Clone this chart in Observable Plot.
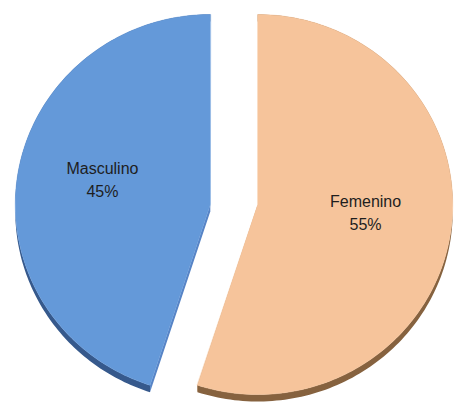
<!DOCTYPE html>
<html><head><meta charset="utf-8">
<script src="https://cdn.jsdelivr.net/npm/d3@7"></script>
<script src="https://cdn.jsdelivr.net/npm/@observablehq/plot@0.6"></script>
<style>html,body{margin:0;padding:0;background:#fff;}</style>
</head><body><div id="chart"></div>
<script>
const categories = ["Masculino", "Femenino"];
const values = [45, 55];
const percentLabels = ["45%", "55%"];

const W = 454, H = 402;
const CX = 233.5, CY = 204, RX = 195, RY = 190, EXPLODE = 24, DEPTH = 7;
const topColors = {Masculino: "#6499d9", Femenino: "#f6c49b"};
const sideColors = {Masculino: "#36598c", Femenino: "#86623f"};
const cutColors = {Masculino: "#5784c6", Femenino: "#c99a72"};

const total = d3.sum(values);
const start = -2 * Math.PI * values[0] / total;
const arcs = d3.pie().sort(null).startAngle(start).endAngle(start + 2 * Math.PI)(values);

function pt(a, cx, cy, dy = 0) {
  return {x: cx + RX * Math.sin(a), y: cy - RY * Math.cos(a) + dy};
}

const slices = arcs.map((a, i) => {
  const mid = (a.startAngle + a.endAngle) / 2;
  return {name: categories[i], label: percentLabels[i], a0: a.startAngle, a1: a.endAngle, mid,
          cx: CX + EXPLODE * Math.sin(mid), cy: CY};
});

function arcPts(s, dy) {
  const n = 160, out = [];
  for (let k = 0; k <= n; k++) {
    const a = s.a0 + (s.a1 - s.a0) * k / n;
    out.push(pt(a, s.cx, s.cy, dy));
  }
  return out;
}

const marks = [];
// side faces first
for (const s of slices) {
  const c0 = {x: s.cx, y: s.cy}, c1 = {x: s.cx, y: s.cy + DEPTH};
  const cuts = [];
  for (const a of [s.a0, s.a1]) {
    const p0 = pt(a, s.cx, s.cy, 0), p1 = pt(a, s.cx, s.cy, DEPTH);
    cuts.push([c0, p0, p1, c1].map(p => ({...p, id: s.name + a})));
  }
  marks.push(Plot.line(cuts.flat(), {x: "x", y: "y", z: "id", fill: cutColors[s.name], stroke: "none", curve: "linear-closed"}));
  const band = [...arcPts(s, 0), ...arcPts(s, DEPTH).reverse()];
  marks.push(Plot.line(band, {x: "x", y: "y", fill: sideColors[s.name], stroke: "none", curve: "linear-closed"}));
}
// top faces
for (const s of slices) {
  const top = [{x: s.cx, y: s.cy}, ...arcPts(s, 0)];
  marks.push(Plot.line(top, {x: "x", y: "y", fill: topColors[s.name], stroke: topColors[s.name], strokeWidth: 0.5, curve: "linear-closed"}));
}
// labels
marks.push(Plot.text(slices, {
  x: d => d.cx + 0.56 * RX * Math.sin(d.mid),
  y: d => d.cy - 0.56 * RY * Math.cos(d.mid) - 10,
  text: d => d.name + "\n" + d.label,
  fontSize: 16, lineHeight: 1.45, fill: "#1e1e1e", textAnchor: "middle"
}));

const chart = Plot.plot({
  width: W, height: H, margin: 0,
  x: {domain: [0, W], range: [0, W], axis: null},
  y: {domain: [0, H], range: [0, H], axis: null},
  style: {background: "#fff", fontFamily: "'Liberation Sans', Arial, sans-serif"},
  marks
});
document.getElementById("chart").appendChild(chart);
</script>
</body></html>
